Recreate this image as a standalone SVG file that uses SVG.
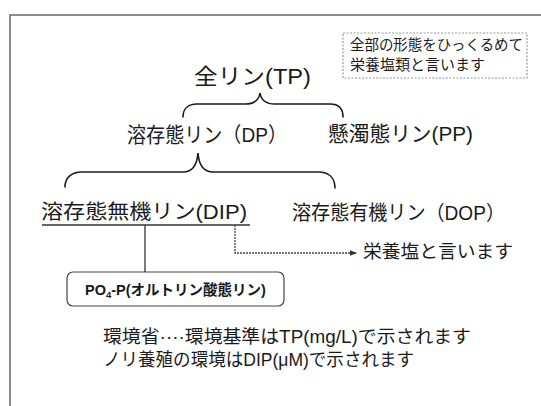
<svg xmlns="http://www.w3.org/2000/svg" width="541" height="406" viewBox="0 0 541 406">
<defs>
<style>
text{font-family:"Liberation Sans","Noto Sans CJK JP",sans-serif;fill:#1a1a1a}
.brace{fill:none;stroke:#1a1a1a;stroke-width:1.6;stroke-linecap:round}
.frame{fill:none;stroke:#666;stroke-width:1.5}
.solid{fill:none;stroke:#333;stroke-width:1.3}
.dot{fill:none;stroke:#444;stroke-width:1.3;stroke-dasharray:2 1}
</style>
<marker id="arr" viewBox="0 0 10 10" refX="10" refY="5" markerWidth="7" markerHeight="7" markerUnits="userSpaceOnUse" orient="auto">
<path d="M0,1 L10,5 L0,9 Z" fill="#333"/>
</marker>
</defs>
<rect width="541" height="406" fill="#fff"/>
<path class="frame" d="M10,406 V15 H541"/>

<g id="note">
<rect x="343" y="33" width="184" height="45" fill="#fff" stroke="#999" stroke-width="1.2" stroke-dasharray="2 1.5"/>
<text x="350" y="50" font-size="14.5" textLength="173" lengthAdjust="spacingAndGlyphs">全部の形態をひっくるめて</text>
<text x="350" y="70" font-size="14.5" textLength="135" lengthAdjust="spacingAndGlyphs">栄養塩類と言います</text>
</g>

<g id="tp">
<text x="194" y="84" font-size="22" textLength="117" lengthAdjust="spacingAndGlyphs">全リン(TP)</text>
</g>
<g id="dp">
<text x="127" y="142" font-size="21" textLength="160" lengthAdjust="spacingAndGlyphs">溶存態リン（DP）</text>
</g>
<g id="pp">
<text x="328" y="141" font-size="21" textLength="145" lengthAdjust="spacingAndGlyphs">懸濁態リン(PP)</text>
</g>
<g id="dip">
<text x="41" y="219" font-size="20" textLength="206" lengthAdjust="spacingAndGlyphs">溶存態無機リン(DIP)</text>
</g>
<g id="dop">
<text x="292" y="220" font-size="20" textLength="213" lengthAdjust="spacingAndGlyphs">溶存態有機リン（DOP）</text>
</g>
<g id="nutrient">
<text x="363" y="258" font-size="18" textLength="150" lengthAdjust="spacingAndGlyphs">栄養塩と言います</text>
</g>
<g id="po4">
<rect x="67" y="272" width="217" height="34" rx="6" fill="#fff" stroke="#444" stroke-width="1.2"/>
<text x="85" y="295" font-size="14.5" font-weight="bold">PO<tspan font-size="9.5" dy="3">4</tspan><tspan dy="-3">-P(オルトリン酸態リン)</tspan></text>
</g>
<g id="notes">
<text x="103" y="343" font-size="18" textLength="368" lengthAdjust="spacingAndGlyphs">環境省····環境基準はTP(mg/L)で示されます</text>
<text x="103" y="366" font-size="18" textLength="311" lengthAdjust="spacingAndGlyphs">ノリ養殖の環境はDIP(μM)で示されます</text>
</g>

<g id="connectors">
<path class="brace" d="M183,117 C183,109 188,104 197,104 L245,104 C254,104 259,100 260,93 C261,100 266,104 275,104 L330,104 C339,104 343,109 343,117"/>
<path class="brace" d="M65,187 C65,178 71,172 82,172 L183,172 C192,172 197,166 198,153 C199,166 204,172 213,172 L318,172 C329,172 335,178 335,188"/>
<path class="solid" d="M42,225 H250"/>
<path class="solid" d="M145,225 V272"/>
<path class="dot" d="M235,225 V253 H357" marker-end="url(#arr)"/>
</g>
</svg>
